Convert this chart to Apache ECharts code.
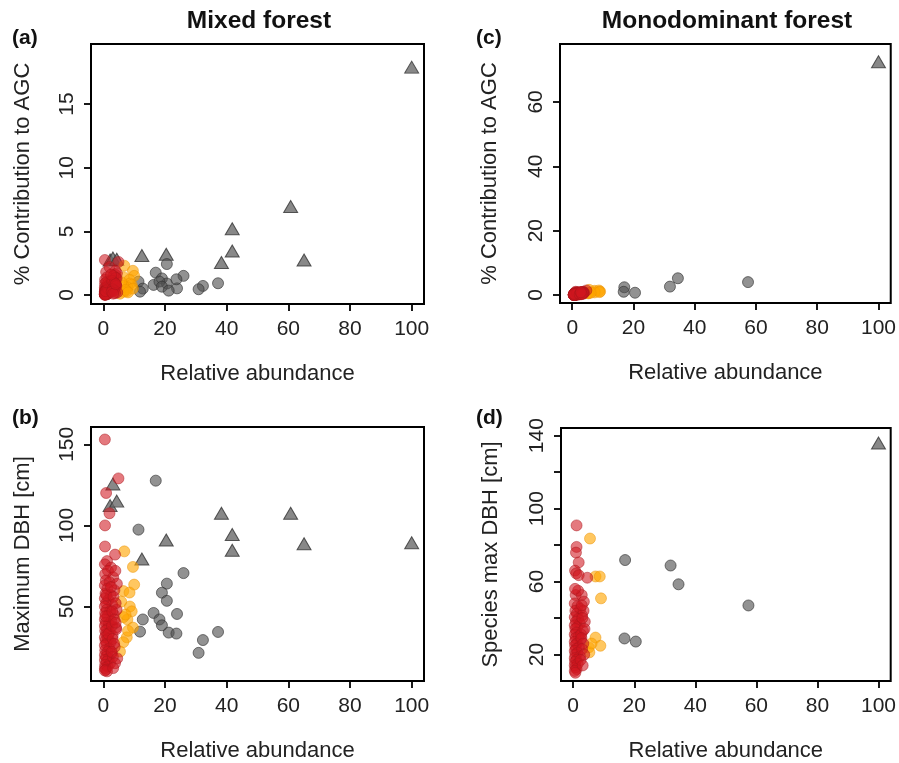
<!DOCTYPE html>
<html>
<head>
<meta charset="utf-8">
<script src="https://cdn.jsdelivr.net/npm/echarts@6/dist/echarts.min.js"></script>
<style>
html,body{margin:0;padding:0;background:#fff;}
#chart{width:899px;height:763px;}
</style>
</head>
<body>
<div id="chart"></div>
<script>
// ---------------- DATA ----------------
// Mixed forest (panels a, b)
const mixedTriX   = [2.2, 3.1, 4.35, 12.5, 20.4, 38.3, 41.8, 41.8, 60.75, 65.1, 100];
const mixedTriAGC = [2.75, 2.9, 2.8, 3.1, 3.2, 2.55, 3.45, 5.2, 6.95, 2.75, 17.9];
const mixedTriDBH = [112.2, 125.6, 115, 79.3, 91, 107.5, 84.7, 94.4, 107.5, 88.7, 89.3];

const mixedGrayX   = [17.0, 11.4, 26.0, 20.6, 19.0, 20.6, 23.9, 16.3, 18.2, 19.0, 12.8, 11.9, 21.2, 23.7, 37.2, 32.3, 30.9];
const mixedGrayAGC = [1.75, 1.05, 1.5, 2.43, 1.3, 0.9, 0.52, 0.79, 1.05, 0.65, 0.5, 0.26, 0.34, 1.23, 0.92, 0.71, 0.45];
const mixedGrayDBH = [127.6, 97.4, 70.6, 64.1, 58.5, 53.5, 45.4, 46, 42, 38.4, 42, 34.5, 33.9, 33.3, 34.3, 29.3, 21.4];

const mixedOrangeX   = [6.8, 9.6, 10.0, 6.5, 8.5, 8.6, 9.2, 7.8, 6.5, 9.6, 7.6, 6.5, 5.4, 5.8, 7.2, 8.0];
const mixedOrangeAGC = [2.3, 1.9, 1.5, 1.4, 1.2, 0.9, 0.8, 0.6, 0.7, 0.5, 0.3, 0.25, 0.1, 1.0, 0.4, 0.2];
const mixedOrangeDBH = [84, 74.4, 63.5, 59.5, 58.6, 50, 47, 42, 43.5, 37, 31, 28, 22.2, 53, 45, 35];

const mixedRedX = [0.5, 4.9, 0.9, 2.0, 0.55, 0.55, 3.8, 1.2, 0.5, 2.5, 1.5, 0.6, 3.2, 0.8, 2.0, 0.5, 1.3, 3.6, 0.7, 2.4,
  0.5, 1.6, 0.9, 2.9, 0.5, 1.1, 2.2, 0.6, 3.4, 1.4, 0.5, 2.6, 0.8, 1.8, 0.5, 4.1, 1.2, 0.6, 2.1, 0.9,
  3.0, 0.5, 1.5, 0.7, 2.4, 1.0, 0.5, 3.7, 1.9, 0.6, 1.3, 2.7, 0.5, 0.9, 1.7, 0.5, 1.1, 2.2, 0.6, 1.4,
  0.5, 0.8, 1.2, 0.5, 3.1, 1.6, 2.8, 0.7, 1.0, 4.3,
  3.9, 4.4, 3.3, 4.0, 2.9, 3.6, 4.2, 3.0, 3.5, 2.7, 4.5, 3.8, 3.2, 2.5, 4.0];
const mixedRedDBH = [153, 129, 120, 107.5, 100, 87, 82, 78, 76, 74, 72, 70, 68, 66, 65, 63, 61, 60, 58, 57,
  55, 54, 52, 51, 50, 48, 47, 46, 45, 44, 42, 41, 40, 39, 38, 37, 36, 35, 34, 33,
  32, 31, 30, 29, 28, 27, 26, 25, 24, 23, 22, 21, 20, 19, 18, 17, 16, 15, 14, 13,
  12, 11, 10, 10.5, 19, 33, 38, 44, 57, 48,
  72, 64, 56, 52, 47, 42, 36, 30, 27, 22, 18, 15, 12, 62, 40];
const mixedRedAGC = [2.75, 2.6, 1.8, 2.2, 1.2, 0.9, 1.6, 1.4, 0.6, 1.1, 0.9, 0.5, 1.2, 0.4, 0.8, 0.3, 0.6, 1.0, 0.35, 0.7,
  0.25, 0.5, 0.3, 0.75, 0.2, 0.35, 0.55, 0.15, 0.7, 0.4, 0.12, 0.5, 0.2, 0.35, 0.1, 0.8, 0.25, 0.1, 0.4, 0.15,
  0.5, 0.08, 0.25, 0.1, 0.35, 0.12, 0.05, 0.6, 0.3, 0.06, 0.15, 0.4, 0.05, 0.08, 0.2, 0.04, 0.1, 0.25, 0.03, 0.08,
  0.02, 0.04, 0.05, 0.02, 0.5, 0.45, 0.9, 0.3, 1.0, 1.3,
  1.9, 1.7, 1.5, 1.35, 1.1, 0.95, 0.7, 0.45, 0.35, 0.25, 0.2, 0.15, 0.1, 1.6, 0.85];

// Monodominant forest (panels c, d)
const monoTriX   = [100];
const monoTriAGC = [72.5];
const monoTriDBH = [136];

const monoGrayX   = [17.0, 31.9, 34.5, 16.8, 20.5, 57.4];
const monoGrayAGC = [2.4, 2.6, 5.2, 1.0, 0.7, 4.0];
const monoGrayDBH = [71.8, 68.8, 58.5, 28.8, 27.1, 46.9];

const monoOrangeX   = [5.5, 7.3, 8.7, 9.1, 7.3, 8.9, 5.1, 5.3, 6.0];
const monoOrangeAGC = [1.6, 1.3, 1.4, 1.1, 0.8, 0.9, 0.6, 0.5, 0.7];
const monoOrangeDBH = [83.6, 62.8, 62.8, 50.8, 29.3, 24.8, 23.9, 21.2, 26];

const monoRedX = [1.1, 1.1, 0.9, 1.8, 0.6, 1.0, 1.8, 4.6, 0.8, 2.8, 3.5, 0.5, 1.4, 2.3, 0.7, 1.2, 2.9, 0.5, 1.6, 0.9,
  2.2, 0.5, 1.3, 0.7, 3.2, 1.0, 0.5, 1.8, 0.8, 2.5, 0.5, 1.2, 0.6, 1.9, 0.9, 0.5, 1.4, 0.7, 2.2, 0.5,
  1.0, 0.6, 1.5, 0.5, 0.8, 1.1, 0.5, 0.7, 2.6, 1.6, 0.6, 3.8,
  3.4, 3.0, 3.7, 2.7, 3.3, 2.9, 3.6, 2.4, 3.1, 2.8];
const monoRedDBH = [90.8, 79, 75.9, 70.5, 66, 64.5, 63.5, 62.1, 52.6, 52.6, 49, 48, 46.5, 45, 44, 42.5, 41.5, 40.5, 39.5, 38,
  37, 36, 35, 34, 33, 32, 31, 30, 29, 28, 27, 26, 25, 24, 23, 22, 21, 20, 19, 18,
  17, 16, 15, 14, 13, 12, 11, 10, 31, 55, 56, 38,
  44, 40, 34, 29, 26, 23, 20, 17, 14, 47];
const monoRedAGC = [1.0, 0.8, 0.6, 0.9, 0.4, 0.5, 0.7, 1.4, 0.3, 0.9, 1.0, 0.2, 0.4, 0.6, 0.2, 0.3, 0.7, 0.15, 0.35, 0.2,
  0.5, 0.1, 0.25, 0.12, 0.6, 0.18, 0.08, 0.3, 0.1, 0.4, 0.06, 0.15, 0.05, 0.25, 0.08, 0.04, 0.12, 0.05, 0.2, 0.03,
  0.06, 0.03, 0.1, 0.02, 0.03, 0.04, 0.02, 0.02, 0.45, 0.6, 0.35, 0.8,
  0.9, 0.75, 0.6, 0.45, 0.5, 0.35, 0.4, 0.2, 0.25, 0.85];

// Tick labels
const xTicks = [0, 20, 40, 60, 80, 100];
const yTicksA = [0, 5, 10, 15];
const yTicksB = [50, 100, 150];
const yTicksC = [0, 20, 40, 60];
const yTicksDMajor = [20, 40, 60, 80, 100, 120, 140];
const yTicksDLabels = [20, 60, 100, 140];

// Texts
const panelTitles = ['Mixed forest', 'Monodominant forest'];
const panelLetters = ['(a)', '(b)', '(c)', '(d)'];
const xName = 'Relative abundance';
const yNames = ['% Contribution to AGC', 'Maximum DBH [cm]', '% Contribution to AGC', 'Species max DBH [cm]'];

// ---------------- CHART ----------------
const FONT = '"Liberation Sans", Arial, Helvetica, sans-serif';
const zip = (xs, ys) => xs.map((x, i) => [x, ys[i]]);

const grids = [
  {left: 91, top: 44, width: 333, height: 260},
  {left: 91, top: 427, width: 333, height: 259},
  {left: 560, top: 44, width: 334, height: 259},
  {left: 561, top: 428, width: 333, height: 258}
].map(g => Object.assign(g, {show: true, borderColor: '#000', borderWidth: 2, backgroundColor: 'transparent', containLabel: false}));

const yRanges = [[-0.71, 19.72], [4.05, 160.7], [-2.49, 78.0], [5.48, 144.2]];
const yTickSets = [yTicksA, yTicksB, yTicksC, yTicksDMajor];
const yLabelSets = [yTicksA, yTicksB, yTicksC, yTicksDLabels];
const yGaps = [57, 57, 59, 59];

const xAxes = grids.map((g, i) => ({
  type: 'value', gridIndex: i, min: -4, max: 104,
  name: xName, nameLocation: 'middle', nameGap: 59,
  nameTextStyle: {fontFamily: FONT, fontSize: 22, color: '#222'},
  splitLine: {show: false},
  axisLine: {show: false, onZero: false},
  axisTick: {show: true, length: 7, customValues: xTicks, lineStyle: {color: '#000', width: 1.8}},
  axisLabel: {customValues: xTicks, fontFamily: FONT, fontSize: 21, color: '#222', margin: 15}
}));

const yAxes = grids.map((g, i) => ({
  type: 'value', gridIndex: i, min: yRanges[i][0], max: yRanges[i][1],
  name: yNames[i], nameLocation: 'middle', nameGap: yGaps[i],
  nameTextStyle: {fontFamily: FONT, fontSize: 22, color: '#222'},
  splitLine: {show: false},
  axisLine: {show: false, onZero: false},
  axisTick: {show: true, length: 7, customValues: yTickSets[i], lineStyle: {color: '#000', width: 1.8}},
  axisLabel: {customValues: yLabelSets[i], rotate: 90, fontFamily: FONT, fontSize: 21, color: '#222', margin: 13}
}));

const RED = 'rgba(208,22,32,0.72)', RED_B = 'rgba(170,20,28,0.6)';
const ORG = 'rgba(255,165,0,0.78)', ORG_B = 'rgba(235,145,0,0.6)';
const GRY = 'rgba(80,80,80,0.78)', GRY_B = 'rgba(50,50,50,0.8)';
const TRI = '#6a6a6a', TRI_B = '#333';

function panelSeries(i, triX, triY, grayX, grayY, orgX, orgY, redX, redY) {
  return [
    {type: 'scatter', xAxisIndex: i, yAxisIndex: i, symbol: 'triangle', symbolSize: [14, 12], z: 2,
      itemStyle: {color: TRI, borderColor: TRI_B, borderWidth: 1}, data: zip(triX, triY)},
    {type: 'scatter', xAxisIndex: i, yAxisIndex: i, symbol: 'circle', symbolSize: 11, z: 3,
      itemStyle: {color: GRY, borderColor: GRY_B, borderWidth: 1}, data: zip(grayX, grayY)},
    {type: 'scatter', xAxisIndex: i, yAxisIndex: i, symbol: 'circle', symbolSize: 11, z: 4,
      itemStyle: {color: ORG, borderColor: ORG_B, borderWidth: 1}, data: zip(orgX, orgY)},
    {type: 'scatter', xAxisIndex: i, yAxisIndex: i, symbol: 'circle', symbolSize: 11, z: 5,
      itemStyle: {color: RED, borderColor: RED_B, borderWidth: 1}, data: zip(redX, redY)}
  ];
}

const series = [].concat(
  panelSeries(0, mixedTriX, mixedTriAGC, mixedGrayX, mixedGrayAGC, mixedOrangeX, mixedOrangeAGC, mixedRedX, mixedRedAGC),
  panelSeries(1, mixedTriX, mixedTriDBH, mixedGrayX, mixedGrayDBH, mixedOrangeX, mixedOrangeDBH, mixedRedX, mixedRedDBH),
  panelSeries(2, monoTriX, monoTriAGC, monoGrayX, monoGrayAGC, monoOrangeX, monoOrangeAGC, monoRedX, monoRedAGC),
  panelSeries(3, monoTriX, monoTriDBH, monoGrayX, monoGrayDBH, monoOrangeX, monoOrangeDBH, monoRedX, monoRedDBH)
);
series.forEach(s => { s.animation = false; s.emphasis = {disabled: true}; });

const txt = (x, y, text, size, align) => ({
  type: 'text', x: x, y: y, silent: true,
  style: {text: text, fontFamily: FONT, fontSize: size, fontWeight: 'bold', fill: '#111', align: align, verticalAlign: 'middle'}
});

const chart = echarts.init(document.getElementById('chart'), null, {renderer: 'canvas'});
chart.setOption({
  backgroundColor: '#fff',
  animation: false,
  grid: grids,
  xAxis: xAxes,
  yAxis: yAxes,
  series: series,
  graphic: [
    txt(259, 21, panelTitles[0], 24.5, 'center'),
    txt(727, 21, panelTitles[1], 24.5, 'center'),
    txt(12, 38, panelLetters[0], 21, 'left'),
    txt(12, 418, panelLetters[1], 21, 'left'),
    txt(476, 38, panelLetters[2], 21, 'left'),
    txt(476, 418, panelLetters[3], 21, 'left')
  ]
});
</script>
</body>
</html>
